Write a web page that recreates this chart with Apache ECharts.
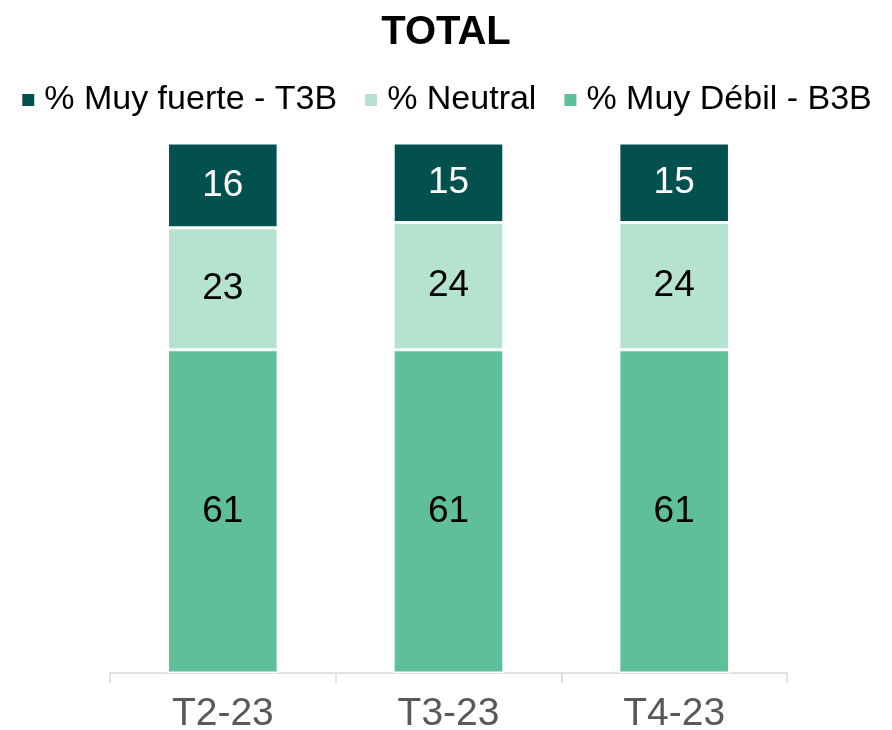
<!DOCTYPE html>
<html>
<head>
<meta charset="utf-8">
<script src="https://cdn.jsdelivr.net/npm/echarts@6/dist/echarts.min.js"></script>
<style>
  html, body { margin: 0; padding: 0; background: #fff; }
  #main { width: 892px; height: 730px; }
</style>
</head>
<body>
<div id="main"></div>
<script>
// chart data
const categories = ['T2-23', 'T3-23', 'T4-23'];
const muyFuerte = [16, 15, 15];
const neutral = [23, 24, 24];
const muyDebil = [61, 61, 61];

const font = '"Liberation Sans", Arial, sans-serif';

const chart = echarts.init(document.getElementById('main'));

const seg = (name, data, color, labelColor) => ({
  name: name,
  type: 'bar',
  stack: 'total',
  data: data,
  barWidth: '49%',
  itemStyle: { color: color, borderColor: '#fff', borderWidth: 1.5 },
  label: {
    show: true,
    position: 'inside',
    color: labelColor,
    fontFamily: font,
    fontSize: 37
  }
});

chart.setOption({
  animation: false,
  title: {
    text: 'TOTAL',
    left: 'center',
    top: 8,
    textStyle: { fontFamily: font, fontSize: 40, fontWeight: 'bold', color: '#000' }
  },
  legend: {
    top: 78,
    left: 'center',
    itemWidth: 14,
    itemHeight: 14,
    itemGap: 26,
    icon: 'rect',
    data: ['% Muy fuerte - T3B', '% Neutral', '% Muy Débil - B3B'],
    textStyle: { fontFamily: font, fontSize: 34, color: '#000', padding: [0, 0, 0, 4] }
  },
  grid: { left: 110, right: 105, top: 143, bottom: 57, outerBoundsMode: 'none' },
  xAxis: {
    type: 'category',
    data: categories,
    axisLine: { lineStyle: { color: '#d9d9d9', width: 1.5 } },
    axisTick: { show: true, length: 10, lineStyle: { color: '#d9d9d9', width: 1.5 } },
    axisLabel: { fontFamily: font, fontSize: 39, color: '#595959', margin: 22 }
  },
  yAxis: {
    type: 'value',
    min: 0,
    max: 100,
    show: false
  },
  series: [
    seg('% Muy Débil - B3B', muyDebil, '#5fbf98', '#000'),
    seg('% Neutral', neutral, '#b5e3cf', '#000'),
    seg('% Muy fuerte - T3B', muyFuerte, '#03514f', '#fff')
  ]
});
</script>
</body>
</html>
